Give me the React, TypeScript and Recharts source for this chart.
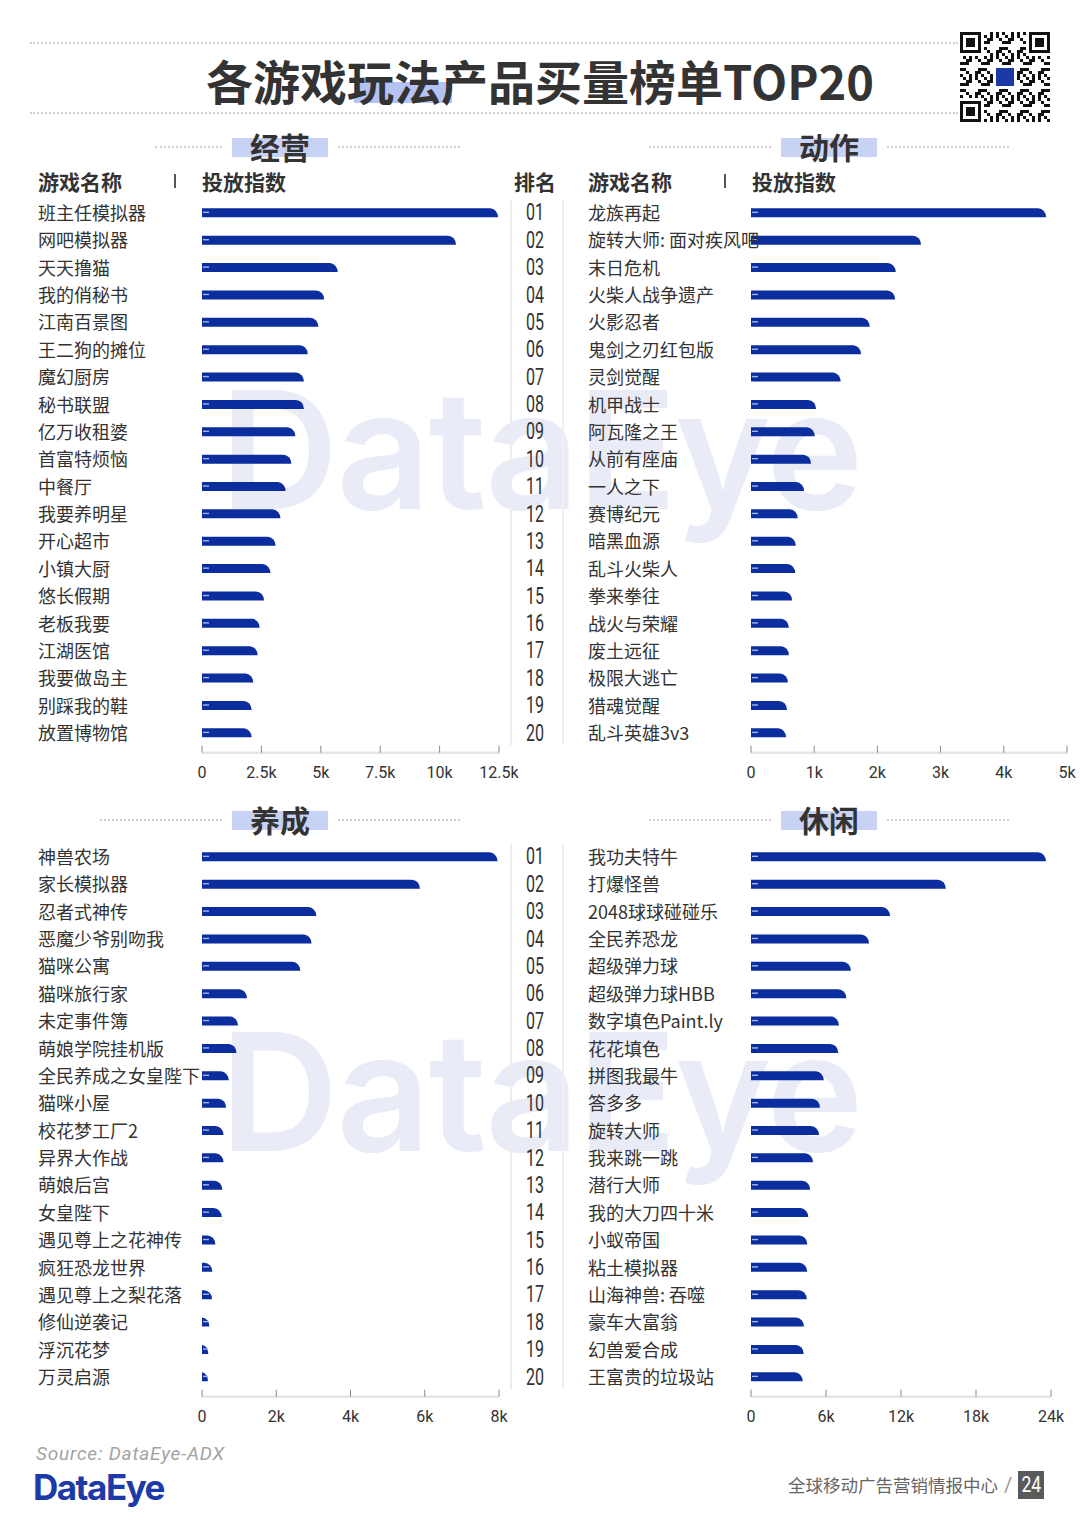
import React from "react";
import { BarChart, Bar, XAxis, YAxis } from "recharts";

const BLUE = "#0b2d9e";
const CJK = "'Noto Sans CJK SC', 'Noto Sans', sans-serif";
const NUM = "Roboto, 'DejaVu Sans', sans-serif";

// 经营
const jyNames = ["班主任模拟器", "网吧模拟器", "天天撸猫", "我的俏秘书", "江南百景图", "王二狗的摊位", "魔幻厨房", "秘书联盟", "亿万收租婆", "首富特烦恼", "中餐厅", "我要养明星", "开心超市", "小镇大厨", "悠长假期", "老板我要", "江湖医馆", "我要做岛主", "别踩我的鞋", "放置博物馆"];
const jyValues = [12460, 10690, 5710, 5140, 4900, 4450, 4290, 4290, 3930, 3760, 3520, 3300, 3100, 2880, 2610, 2430, 2340, 2160, 2090, 2090];
const jyTicks = [0, 2500, 5000, 7500, 10000, 12500];

// 动作
const dzNames = ["龙族再起", "旋转大师: 面对疾风吧", "末日危机", "火柴人战争遗产", "火影忍者", "鬼剑之刃红包版", "灵剑觉醒", "机甲战士", "阿瓦隆之王", "从前有座庙", "一人之下", "赛博纪元", "暗黑血源", "乱斗火柴人", "拳来拳往", "战火与荣耀", "废土远征", "极限大逃亡", "猎魂觉醒", "乱斗英雄3v3"];
const dzValues = [4670, 2690, 2290, 2280, 1880, 1740, 1420, 1030, 1010, 950, 840, 740, 710, 700, 650, 600, 600, 585, 570, 555];
const dzTicks = [0, 1000, 2000, 3000, 4000, 5000];

// 养成
const ycNames = ["神兽农场", "家长模拟器", "忍者式神传", "恶魔少爷别吻我", "猫咪公寓", "猫咪旅行家", "未定事件簿", "萌娘学院挂机版", "全民养成之女皇陛下", "猫咪小屋", "校花梦工厂2", "异界大作战", "萌娘后宫", "女皇陛下", "遇见尊上之花神传", "疯狂恐龙世界", "遇见尊上之梨花落", "修仙逆袭记", "浮沉花梦", "万灵启源"];
const ycValues = [7960, 5870, 3080, 2950, 2650, 1210, 970, 930, 720, 650, 580, 580, 550, 530, 360, 280, 270, 200, 170, 160];
const ycTicks = [0, 2000, 4000, 6000, 8000];

// 休闲
const xxNames = ["我功夫特牛", "打爆怪兽", "2048球球碰碰乐", "全民养恐龙", "超级弹力球", "超级弹力球HBB", "数字填色Paint.ly", "花花填色", "拼图我最牛", "答多多", "旋转大师", "我来跳一跳", "潜行大师", "我的大刀四十米", "小蚁帝国", "粘土模拟器", "山海神兽: 吞噬", "豪车大富翁", "幻兽爱合成", "王富贵的垃圾站"];
const xxValues = [23600, 15580, 11120, 9440, 8000, 7620, 7040, 6980, 5820, 5520, 5440, 4960, 4740, 4580, 4500, 4500, 4460, 4240, 4220, 4140];
const xxTicks = [0, 6000, 12000, 18000, 24000];

const fmtK = (v: number) => (v === 0 ? "0" : `${v / 1000}k`);

const BarShape = (p: any) => {
  const { x, y, width: w, height: h } = p;
  if (!w || w <= 0) return null;
  const rx = Math.min(8, w);
  return (
    <g>
      <path d={`M${x},${y + h} L${x},${y} L${x + w - rx},${y} A${rx},${h} 0 0 1 ${x + w},${y + h} Z`} fill={BLUE} />
      <line x1={x + 1} x2={x + Math.min(7, w)} y1={y + h * 0.45} y2={y + h * 0.45} stroke="#a7b4e4" strokeWidth={1.4} />
    </g>
  );
};

const AxisTick = ({ x, y, payload }: any) => (
  <g>
    <line x1={x} x2={x} y1={y - 7} y2={y} stroke="#8a8a8a" strokeWidth={1} />
    <text x={x} y={y + 20} textAnchor="middle" dominantBaseline="central" fontFamily={NUM} fontSize={16} fill="#333">
      {fmtK(payload.value)}
    </text>
  </g>
);

interface PanelProps {
  left: number;
  top: number;
  width: number;
  axisW: number;
  right: number;
  names: string[];
  values: number[];
  ticks: number[];
  nameX: number;
  rankX?: number;
  marginTop: number;
}

function Panel({ left, top, width, axisW, right, names, values, ticks, nameX, rankX, marginTop }: PanelProps) {
  const data = names.map((name, i) => ({ name, value: values[i] }));
  const NameTick = (props: any) => {
    const { y, payload } = props;
    const idx = names.indexOf(payload.value);
    return (
      <g>
        <text x={nameX} y={y - 1} textAnchor="start" dominantBaseline="central" fontFamily={CJK} fontSize={18} fill="#333">
          {payload.value}
        </text>
        {rankX !== undefined && (
          <text
            x={rankX - 9}
            y={y}
            textLength={18}
            lengthAdjust="spacingAndGlyphs"
            dominantBaseline="central"
            fontFamily={NUM}
            fontSize={23}
            fill="#333"
          >
            {String(idx + 1).padStart(2, "0")}
          </text>
        )}
      </g>
    );
  };
  return (
    <div style={{ position: "absolute", left, top }}>
      <BarChart width={width} height={610} data={data} layout="vertical" margin={{ top: marginTop, right, bottom: 610 - marginTop - 553.4 - 40, left: 0 }}>
        <XAxis
          type="number"
          domain={[0, ticks[ticks.length - 1]]}
          ticks={ticks}
          interval={0}
          height={40}
          tickSize={0}
          tickMargin={0}
          tickLine={false}
          axisLine={{ stroke: "#e6e6e6", strokeWidth: 2.5 }}
          tick={<AxisTick />}
        />
        <YAxis type="category" dataKey="name" width={axisW} interval={0} axisLine={false} tickLine={false} padding={{ top: 0, bottom: 6 }} tick={<NameTick />} />
        <Bar dataKey="value" barSize={9} isAnimationActive={false} shape={<BarShape />} />
      </BarChart>
    </div>
  );
}

const T = ({ x, y, size, weight = 400, color = "#333", center = false, children, style }: any) => (
  <div
    style={{
      position: "absolute",
      left: x,
      top: y,
      transform: center ? "translate(-50%,-50%)" : "translateY(-50%)",
      fontSize: size,
      fontWeight: weight,
      color,
      lineHeight: 1,
      whiteSpace: "nowrap",
      fontFamily: CJK,
      ...style,
    }}
  >
    {children}
  </div>
);

const Dotted = ({ x, y, w }: any) => (
  <div style={{ position: "absolute", left: x, top: y, width: w, height: 0, borderTop: "2px dotted #cfcfcf" }} />
);

const Section = ({ cx, y, label, leftW = 122 }: any) => (
  <>
    <Dotted x={cx - 58 - leftW} y={y - 1} w={leftW} />
    <Dotted x={cx + 58} y={y - 1} w={122} />
    <div style={{ position: "absolute", left: cx - 48, top: y - 9, width: 96, height: 19, background: "#c8d2f4" }} />
    <T x={cx} y={y - 1} size={30} weight={700} center>
      {label}
    </T>
  </>
);

const Header = ({ x, rank }: any) => (
  <>
    <T x={x} y={181} size={21} weight={700}>游戏名称</T>
    <div style={{ position: "absolute", left: x + 136, top: 174, width: 1.5, height: 14, background: "#555" }} />
    <T x={x + 164} y={181} size={21} weight={700}>投放指数</T>
    {rank && <T x={535} y={181} size={21} weight={700} center>排名</T>}
  </>
);

function QR() {
  const n = 30;
  const cells: React.ReactNode[] = [];
  const finder = (r: number, c: number) =>
    (r < 7 && c < 7) || (r < 7 && c >= n - 7) || (r >= n - 7 && c < 7);
  for (let r = 0; r < n; r++) {
    for (let c = 0; c < n; c++) {
      if (finder(r, c)) continue;
      if ((r * 31 + c * 17 + r * c) % 7 < 3) cells.push(<rect key={`${r}-${c}`} x={c * 3} y={r * 3} width={3} height={3} fill="#111" />);
    }
  }
  const F = ({ x, y }: any) => (
    <g>
      <rect x={x} y={y} width={21} height={21} fill="#111" />
      <rect x={x + 3} y={y + 3} width={15} height={15} fill="#fff" />
      <rect x={x + 6} y={y + 6} width={9} height={9} fill="#111" />
    </g>
  );
  return (
    <svg width={90} height={90} style={{ position: "absolute", left: 960, top: 32 }}>
      {cells}
      <rect x={0} y={0} width={24} height={24} fill="#fff" />
      <rect x={66} y={0} width={24} height={24} fill="#fff" />
      <rect x={0} y={66} width={24} height={24} fill="#fff" />
      <F x={0} y={0} />
      <F x={69} y={0} />
      <F x={0} y={69} />
      <rect x={34} y={34} width={22} height={22} fill="#fff" />
      <rect x={36} y={36} width={18} height={18} fill="#1b3aa6" />
    </svg>
  );
}

const Watermark = ({ y }: any) => (
  <div
    style={{
      position: "absolute",
      left: 220,
      top: y,
      transform: "translateY(-50%)",
      fontFamily: "Inter, sans-serif",
      fontWeight: 600,
      fontSize: 164,
      letterSpacing: -2,
      color: "#e9ebf7",
      lineHeight: 1,
      whiteSpace: "nowrap",
    }}
  >
    DataEye
  </div>
);

export default function App() {
  return (
    <div style={{ position: "relative", width: 1080, height: 1527, background: "#fff", overflow: "hidden", fontFamily: CJK }}>
      <style>{"body{margin:0}"}</style>
      <Watermark y={450} />
      <Watermark y={1092} />

      {/* title */}
      <Dotted x={30} y={42} w={928} />
      <Dotted x={30} y={112} w={928} />
      <div style={{ position: "absolute", left: 354, top: 82, width: 98, height: 21, background: "#b4c3f3" }} />
      <T x={540} y={79} size={47} weight={700} center>
        各游戏玩法产品买量榜单TOP20
      </T>
      <QR />

      <Section cx={280} y={147} label="经营" leftW={67} />
      <Section cx={829} y={147} label="动作" />
      <Section cx={280} y={820} label="养成" />
      <Section cx={829} y={820} label="休闲" />

      <Header x={38} rank />
      <Header x={588} />

      {/* separators */}
      <div style={{ position: "absolute", left: 510, top: 200, width: 1.5, height: 545, background: "#ececec" }} />
      <div style={{ position: "absolute", left: 562, top: 200, width: 1.5, height: 545, background: "#f0f0f0" }} />
      <div style={{ position: "absolute", left: 510, top: 844, width: 1.5, height: 545, background: "#ececec" }} />
      <div style={{ position: "absolute", left: 562, top: 844, width: 1.5, height: 545, background: "#f0f0f0" }} />

      <Panel left={0} top={190} width={560} axisW={202} right={61} names={jyNames} values={jyValues} ticks={jyTicks} nameX={38} rankX={535} marginTop={9.3} />
      <Panel left={560} top={190} width={520} axisW={191} right={13} names={dzNames} values={dzValues} ticks={dzTicks} nameX={28} marginTop={9.3} />
      <Panel left={0} top={835} width={560} axisW={202} right={61} names={ycNames} values={ycValues} ticks={ycTicks} nameX={38} rankX={535} marginTop={8.3} />
      <Panel left={560} top={835} width={520} axisW={191} right={29} names={xxNames} values={xxValues} ticks={xxTicks} nameX={28} marginTop={8.3} />

      {/* footer */}
      <T x={36} y={1453} size={19} color="#a3a3a3" style={{ fontFamily: NUM, fontStyle: "italic", letterSpacing: 0.8 }}>
        Source: DataEye-ADX
      </T>
      <T x={33} y={1487} size={35} weight={700} color="#1c3aa8" style={{ fontFamily: "Inter, sans-serif", letterSpacing: -1.5 }}>
        DataEye
      </T>
      <T x={788} y={1485} size={17.5} color="#666">
        全球移动广告营销情报中心
      </T>
      <T x={1004} y={1485} size={20} color="#999" style={{ fontFamily: NUM }}>
        /
      </T>
      <div style={{ position: "absolute", left: 1018, top: 1471, width: 26, height: 28, background: "#5a5a5a", color: "#fff", fontFamily: NUM, fontSize: 22, lineHeight: "28px", textAlign: "center" }}>
        <span style={{ display: "inline-block", transform: "scaleX(0.8)" }}>24</span>
      </div>
    </div>
  );
}
